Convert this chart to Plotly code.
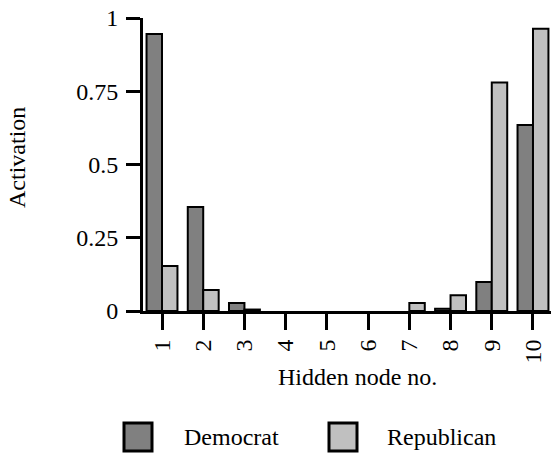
import plotly.graph_objects as go

nodes = [1, 2, 3, 4, 5, 6, 7, 8, 9, 10]
node_labels = [str(n) for n in nodes]
democrat = [0.945, 0.355, 0.027, 0.0, 0.0, 0.0, 0.0, 0.008, 0.099, 0.635]
republican = [0.154, 0.072, 0.005, 0.0, 0.0, 0.0, 0.027, 0.054, 0.780, 0.963]
series_names = ["Democrat", "Republican"]
series_colors = ["#808080", "#c0c0c0"]
y_ticks = [0, 0.25, 0.5, 0.75, 1]
y_tick_labels = ["0", "0.25", "0.5", "0.75", "1"]

W, H = 551, 456
L, R, T, B = 143, 0, 18, 145
FS = 24
FAM = "Liberation Serif, Times New Roman, serif"

pw = W - L - R
ph = H - T - B


def px2x(px):
    return (px - L) / pw


def py2y(py):
    return (H - B - py) / ph


def fnt():
    return dict(family=FAM, size=FS, color="black")


fig = go.Figure()
for name, vals, col in zip(series_names, [democrat, republican], series_colors):
    fig.add_trace(go.Bar(
        x=nodes, y=vals, name=name,
        marker=dict(color=col,
                    line=dict(color="black", width=[2 if v > 0 else 0 for v in vals])),
        showlegend=False,
    ))

fig.update_layout(
    width=W, height=H,
    margin=dict(l=L, r=R, t=T, b=B),
    paper_bgcolor="white", plot_bgcolor="white",
    font=fnt(),
    barmode="group", bargap=0.25, bargroupgap=0.0,
    xaxis=dict(
        range=[0.539, 10.437], tickmode="array", tickvals=nodes, ticktext=node_labels,
        tickangle=-90, showline=True, linecolor="black", linewidth=3,
        ticks="outside", ticklen=16, tickwidth=3, tickcolor="black",
        tickfont=fnt(), showgrid=False, zeroline=False,
    ),
    yaxis=dict(
        range=[0, 1], tickmode="array", tickvals=y_ticks, ticktext=y_tick_labels,
        showline=True, linecolor="black", linewidth=3,
        ticks="outside", ticklen=14, tickwidth=3, tickcolor="black",
        ticklabelstandoff=3, tickfont=fnt(), showgrid=False, zeroline=False,
    ),
)

# axis titles
fig.add_annotation(text="Hidden node no.", xref="paper", yref="paper",
                   x=px2x(357), y=py2y(377), showarrow=False,
                   xanchor="center", yanchor="middle", font=fnt())
fig.add_annotation(text="Activation", xref="paper", yref="paper",
                   x=px2x(17), y=py2y(158), showarrow=False, textangle=-90,
                   xanchor="center", yanchor="middle", font=fnt())

# custom legend
legend_sq_x = [124, 329]
legend_txt_x = [182, 385]
for name, col, sx, tx in zip(series_names, series_colors, legend_sq_x, legend_txt_x):
    fig.add_shape(type="rect", xref="paper", yref="paper",
                  x0=px2x(sx), x1=px2x(sx + 28), y0=py2y(451), y1=py2y(423),
                  fillcolor=col, line=dict(color="black", width=3))
    fig.add_annotation(text=name, xref="paper", yref="paper",
                       x=px2x(tx), y=py2y(437), showarrow=False,
                       xanchor="left", yanchor="middle", font=fnt())

fig.write_html("out.html")
